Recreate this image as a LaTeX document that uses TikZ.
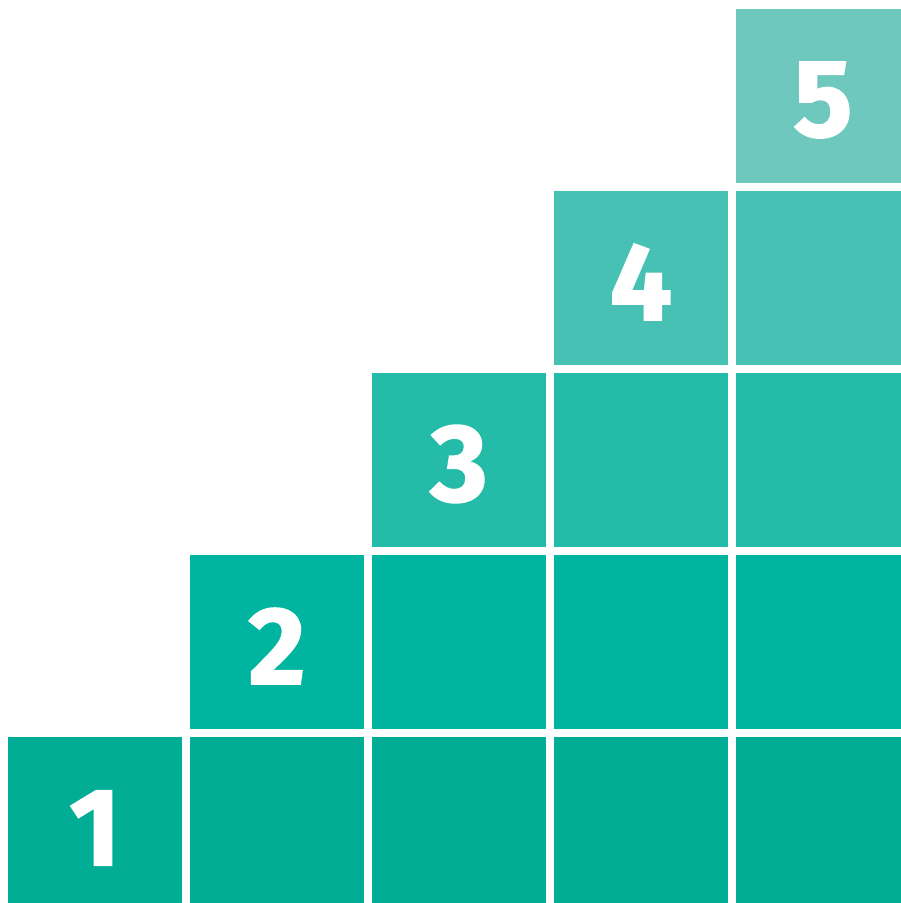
\documentclass[tikz,border=0pt]{standalone}
\usepackage{fontspec}
\setmainfont{Fira Sans}
\newfontfamily\numfont[BoldFeatures={FakeBold=1.5}]{Fira Sans}
\definecolor{rowA}{RGB}{2,173,150}
\definecolor{rowB}{RGB}{0,181,159}
\definecolor{rowC}{RGB}{36,187,168}
\definecolor{rowD}{RGB}{72,193,181}
\definecolor{rowE}{RGB}{110,200,190}
\begin{document}
\begin{tikzpicture}[x=1pt,y=1pt,
  cell/.style={inner sep=0pt, outer sep=0pt, minimum size=174pt, draw=none, anchor=north west},
  num/.style={inner sep=0pt, text=white, font=\numfont\fontsize{110}{110}\selectfont\bfseries}]
\useasboundingbox (0,0) rectangle (901,903);
\clip (0,0) rectangle (901,903);
\foreach \r/\col in {1/rowA,2/rowB,3/rowC,4/rowD,5/rowE} {
  \foreach \c in {\r,...,5} {
    \node[cell, fill=\col] (b\r\c) at ({8+182*(\c-1)}, {903-(9+182*(5-\r))}) {};
  }
  \node[num] (n\r) at ([yshift=-4pt]b\r\r.center) {\r};
}
\end{tikzpicture}
\end{document}
